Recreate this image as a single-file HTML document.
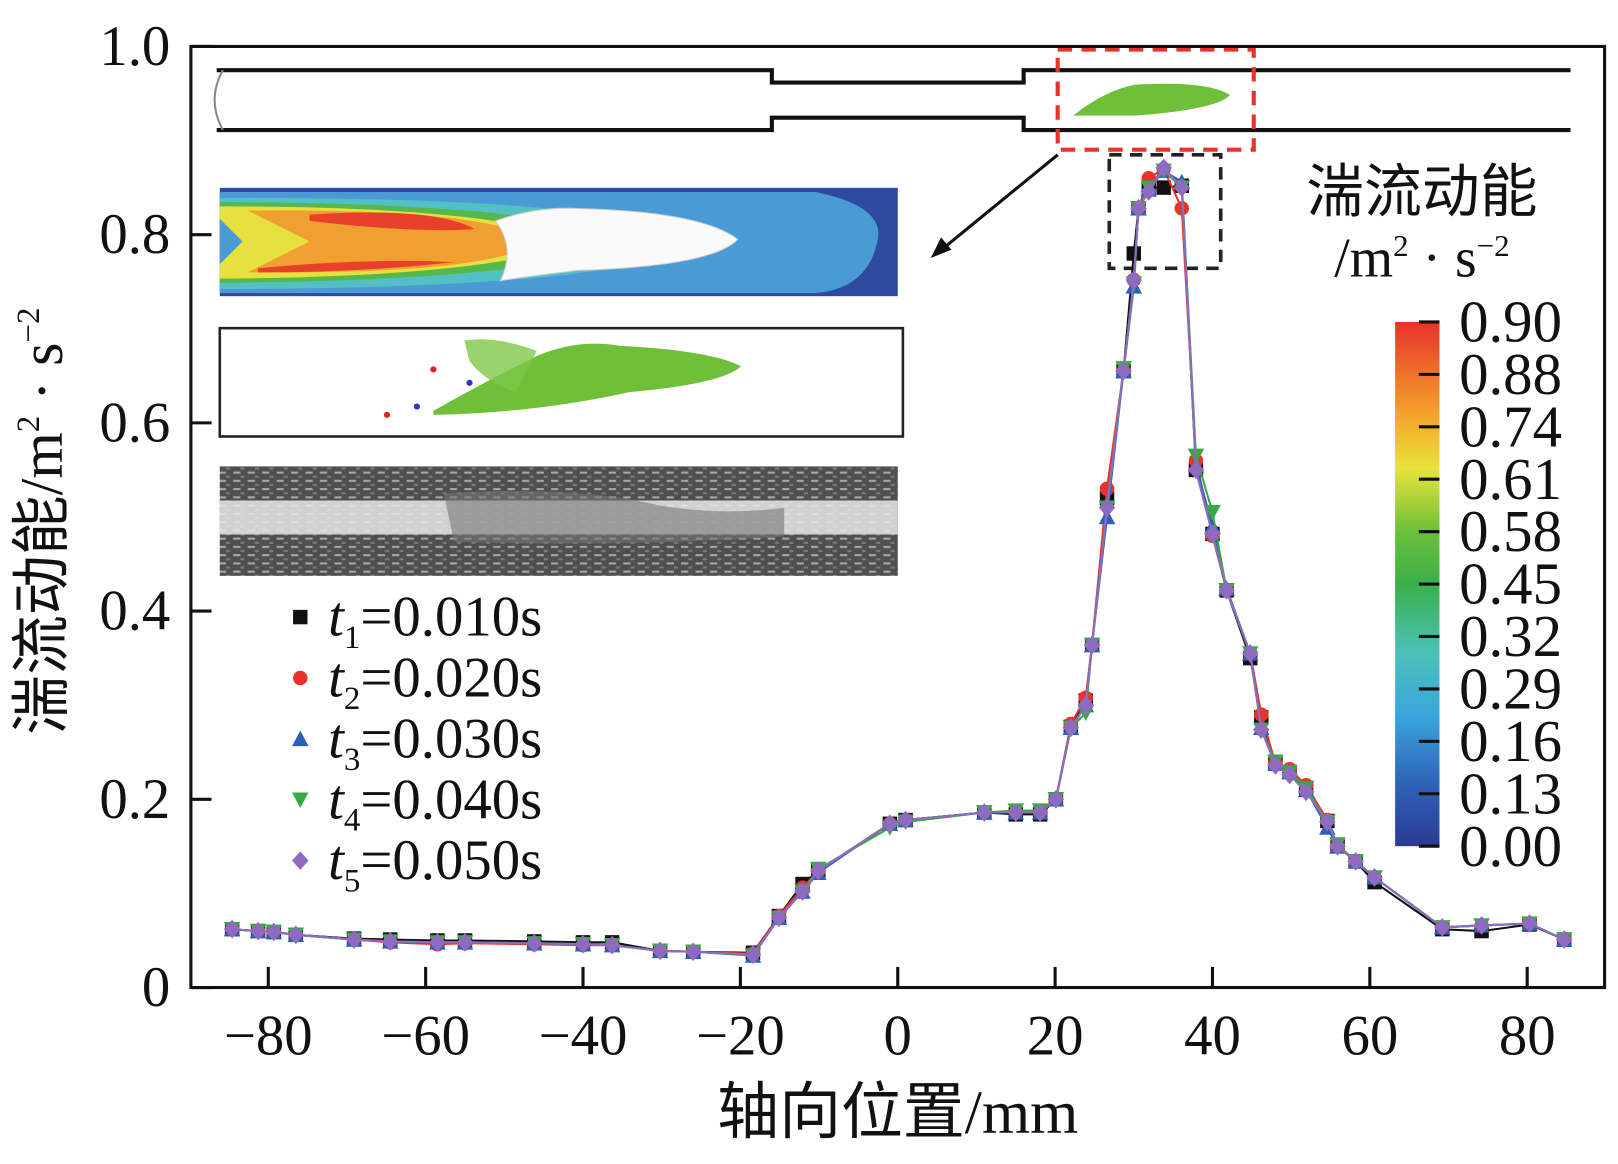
<!DOCTYPE html>
<html><head><meta charset="utf-8"><style>
html,body{margin:0;padding:0;background:#fff}
svg{display:block}
text{font-family:"Liberation Serif","Noto Serif CJK SC",serif;fill:#111}
.cjk{font-family:"Liberation Serif","Noto Sans CJK SC",sans-serif}
</style></head><body>
<svg id="chart" width="1618" height="1164" viewBox="0 0 1568 1128" xmlns="http://www.w3.org/2000/svg">
<defs>
<linearGradient id="cbar" x1="0" y1="1" x2="0" y2="0">
<stop offset="0" stop-color="#2b3a92"/><stop offset="0.12" stop-color="#2f63b8"/><stop offset="0.25" stop-color="#3aa6dc"/><stop offset="0.37" stop-color="#4cc0b8"/><stop offset="0.5" stop-color="#3bb04a"/><stop offset="0.6" stop-color="#6cc03a"/><stop offset="0.72" stop-color="#e8e43a"/><stop offset="0.82" stop-color="#f4a52a"/><stop offset="1" stop-color="#e8322a"/>
</linearGradient>
<pattern id="noise" width="14" height="8" patternUnits="userSpaceOnUse"><rect width="14" height="8" fill="#555"/><rect x="2" y="1" width="7" height="2" fill="#ddd"/><rect x="9" y="5" width="4" height="2" fill="#999"/></pattern>
</defs>
<g id="insets">
<g>
<path d="M210,68 H748 V80 H992 V68 H1522 M210,126 H748 V114 H992 V126 H1522" fill="none" stroke="#111" stroke-width="4"/>
<path d="M216,68 Q200,97 216,126" fill="none" stroke="#888" stroke-width="2"/>
<path d="M1040,112 Q1070,88 1100,82 Q1170,78 1192,92 Q1180,106 1100,112 Z" fill="#6fbf3a"/>
<rect x="1025" y="48" width="190" height="97" fill="none" stroke="#e8322a" stroke-width="4" stroke-dasharray="14,9"/>
<rect x="1075" y="150" width="108" height="110" fill="none" stroke="#222" stroke-width="3.5" stroke-dasharray="12,8"/>
<line x1="1025" y1="150" x2="910" y2="244" stroke="#111" stroke-width="3"/>
<path d="M902,250 L912,230 L922,242 Z" fill="#111"/>
</g>
<g>
<rect x="213" y="182" width="657" height="105" fill="#2d4a9e"/>
<path d="M213,186 H790 Q860,200 850,235 Q840,280 790,284 H213 Z" fill="#4a9ad6"/>
<path d="M213,192 Q600,190 690,234 Q600,280 213,280 Z" fill="#52c0c4"/>
<path d="M213,196 Q520,196 620,234 Q520,272 213,274 Z" fill="#56b84a"/>
<path d="M213,200 Q480,200 560,234 Q480,268 213,270 Z" fill="#e6e040"/>
<path d="M213,212 L235,234 L213,256 Z" fill="#4a9ad6"/>
<path d="M240,204 Q480,202 520,234 Q480,266 240,264 L300,234 Z" fill="#f0a030"/>
<path d="M300,208 Q420,200 460,222 Q400,226 300,214 Z" fill="#e8402a"/>
<path d="M250,260 Q350,250 440,254 Q350,264 250,264 Z" fill="#e8402a"/>
<path d="M480,214 Q520,200 560,202 Q680,205 715,232 Q690,258 560,262 Q510,268 485,272 Q500,240 480,214 Z" fill="#fafafa" stroke="#ccc"/>
</g>
<g>
<rect x="213" y="318" width="662" height="105" fill="#fff" stroke="#222" stroke-width="2.5"/>
<path d="M420,398 Q470,370 520,345 Q560,328 600,335 Q690,340 718,355 Q700,372 610,380 Q520,400 420,402 Z" fill="#6fbf3a"/>
<path d="M450,330 Q480,325 520,340 L500,380 Q470,370 455,350 Z" fill="#7ec84a" opacity="0.8"/>
<circle cx="420" cy="358" r="3" fill="#d22"/><circle cx="375" cy="402" r="3" fill="#d22"/><circle cx="404" cy="394" r="3" fill="#33c"/><circle cx="455" cy="371" r="3" fill="#33c"/>
</g>
<g>
<rect x="213" y="452" width="657" height="106" fill="url(#noise)"/>
<rect x="213" y="452" width="657" height="106" fill="#444" opacity="0.35"/>
<path d="M213,485 H870 V518 H213 Z" fill="#e8e8e8" opacity="0.85"/>
<path d="M430,478 Q560,470 640,490 Q700,500 760,492 L760,520 Q600,530 440,525 Z" fill="#777" opacity="0.6"/>
</g>
</g>
<g id="axes"></g>
<g id="series"></g>
<g id="legend"></g>
<g>
<text class="cjk" x="1378" y="205" font-size="56" text-anchor="middle">湍流动能</text>
<text x="1378" y="268" font-size="54" text-anchor="middle">/m<tspan font-size="30" dy="-20">2</tspan><tspan dy="20"> · s</tspan><tspan font-size="30" dy="-20">−2</tspan></text>
<rect x="1352" y="312" width="43" height="508" fill="url(#cbar)"/>
<g id="cbticks"></g>
</g>
</svg>
<script>
const xTicks=[-80,-60,-40,-20,0,20,40,60,80];
const yTicks=[0,0.2,0.4,0.6,0.8,1.0];
const yTickLabels=["0","0.2","0.4","0.6","0.8","1.0"];
const cbLabels=["0.90","0.88","0.74","0.61","0.58","0.45","0.32","0.29","0.16","0.13","0.00"];
const xs=[-84.6,-81.3,-79.3,-76.5,-69.1,-64.5,-58.5,-55,-46.2,-40,-36.3,-30.2,-26,-18.4,-15.1,-12.1,-10.1,-1,1,11,15,18.1,20.1,22,23.9,24.7,26.6,28.7,30,30.6,31.9,33.8,36.1,37.9,40,41.8,44.8,46.2,48,49.8,51.9,54.6,55.9,58.2,60.6,69.2,74.2,80.3,84.7];
const y1=[0.062,0.060,0.059,0.056,0.052,0.051,0.050,0.050,0.049,0.048,0.048,0.039,0.038,0.037,0.076,0.110,0.124,0.174,0.178,0.186,0.184,0.184,0.200,0.277,0.305,0.364,0.520,0.655,0.780,0.828,0.850,0.850,0.852,0.550,0.482,0.422,0.350,0.287,0.238,0.229,0.212,0.177,0.150,0.134,0.112,0.062,0.060,0.067,0.051];
const y2=[0.062,0.060,0.059,0.056,0.051,0.048,0.046,0.047,0.046,0.045,0.045,0.039,0.038,0.036,0.076,0.106,0.124,0.174,0.178,0.186,0.186,0.186,0.200,0.280,0.308,0.364,0.530,0.655,0.752,0.828,0.860,0.870,0.828,0.560,0.480,0.422,0.355,0.290,0.238,0.232,0.215,0.178,0.150,0.134,0.117,0.064,0.066,0.068,0.051];
const y3=[0.062,0.060,0.059,0.056,0.051,0.049,0.048,0.048,0.047,0.046,0.045,0.039,0.038,0.034,0.074,0.102,0.122,0.174,0.178,0.186,0.186,0.186,0.200,0.276,0.300,0.364,0.500,0.655,0.745,0.828,0.848,0.868,0.856,0.555,0.490,0.424,0.355,0.276,0.238,0.229,0.210,0.170,0.150,0.134,0.117,0.064,0.066,0.068,0.051];
const y4=[0.062,0.060,0.059,0.056,0.051,0.049,0.048,0.048,0.047,0.046,0.045,0.039,0.038,0.034,0.074,0.102,0.126,0.170,0.176,0.186,0.188,0.188,0.200,0.276,0.292,0.364,0.510,0.658,0.748,0.828,0.850,0.868,0.850,0.565,0.505,0.422,0.355,0.274,0.240,0.229,0.212,0.176,0.152,0.134,0.117,0.064,0.066,0.068,0.051];
const y5=[0.062,0.060,0.059,0.056,0.051,0.049,0.048,0.048,0.047,0.046,0.045,0.039,0.038,0.035,0.074,0.102,0.124,0.174,0.178,0.186,0.186,0.186,0.200,0.276,0.300,0.364,0.510,0.655,0.752,0.828,0.846,0.871,0.850,0.550,0.482,0.422,0.355,0.274,0.236,0.226,0.208,0.176,0.150,0.134,0.117,0.064,0.066,0.068,0.051];
const legendLabels=["0.010s","0.020s","0.030s","0.040s","0.050s"];
const NS="http://www.w3.org/2000/svg";
const X0=185,X1=1555,Y0=957,Y1=45;
const xScale=v=>870+v*7.625;
const yScale=v=>Y0-v*(Y0-Y1);
function mk(tag,attrs,parent){const e=document.createElementNS(NS,tag);for(const k in attrs)e.setAttribute(k,attrs[k]);parent.appendChild(e);return e;}
const axes=document.getElementById('axes');
const frame=mk('rect',{x:X0,y:Y1,width:X1-X0,height:Y0-Y1,fill:'none',stroke:'#111','stroke-width':3},axes);


xTicks.forEach(v=>{const x=xScale(v);
const t=mk('line',{x1:x,y1:Y0,x2:x,y2:Y0-20,stroke:'#111','stroke-width':3},axes);


const l=mk('text',{x:x,y:1022,'font-size':55,'text-anchor':'middle'},axes);l.textContent=(v<0?'−'+(-v):v);

});
yTicks.forEach((v,i)=>{const y=yScale(v);
const t=mk('line',{x1:X0,y1:y,x2:X0+20,y2:y,stroke:'#111','stroke-width':3},axes);


const l=mk('text',{x:165,y:y+18,'font-size':55,'text-anchor':'end'},axes);l.textContent=yTickLabels[i];

});
const xt=mk('text',{x:870,y:1098,'font-size':60,'text-anchor':'middle',class:'cjk'},axes);xt.textContent='轴向位置/mm';


const yt=mk('text',{transform:'translate(60,505) rotate(-90)','font-size':58,'text-anchor':'middle',class:'cjk'},axes);
yt.innerHTML='湍流动能/m<tspan font-size="32" dy="-22">2</tspan><tspan dy="22"> · s</tspan><tspan font-size="32" dy="-22">−2</tspan>';


const cb=document.getElementById('cbticks');
cbLabels.forEach((s,i)=>{const y=312+i*50.8;
const t=mk('line',{x1:1375,y1:y,x2:1395,y2:y,stroke:'#111','stroke-width':3},cb);


const l=mk('text',{x:1414,y:y+19,'font-size':57},cb);l.textContent=s;

});
const colors=['#111','#e8322a','#2e5fb8','#3aa845','#8e6bc0'];
const shapes=['square','circle','tri','tridown','diamond'];
function marker(shape,cx,cy,c,p){const s=7;let e;
if(shape==='square')e=mk('rect',{x:cx-s,y:cy-s,width:2*s,height:2*s,fill:c},p);
else if(shape==='circle')e=mk('circle',{cx:cx,cy:cy,r:s,fill:c},p);
else if(shape==='tri')e=mk('path',{d:`M${cx},${cy-s-1}L${cx+s+1},${cy+s}L${cx-s-1},${cy+s}Z`,fill:c},p);
else if(shape==='tridown')e=mk('path',{d:`M${cx},${cy+s+1}L${cx+s+1},${cy-s}L${cx-s-1},${cy-s}Z`,fill:c},p);
else e=mk('path',{d:`M${cx},${cy-s-2}L${cx+s+1},${cy}L${cx},${cy+s+2}L${cx-s-1},${cy}Z`,fill:c},p);
return e;}
const ser=document.getElementById('series');
[y1,y2,y3,y4,y5].forEach((ys,k)=>{const g=mk('g',{},ser);


const d=xs.map((x,i)=>(i?'L':'M')+xScale(x).toFixed(1)+','+yScale(ys[i]).toFixed(1)).join('');
const ln=mk('path',{d:d,fill:'none',stroke:colors[k],'stroke-width':2},g);


xs.forEach((x,i)=>{const m=marker(shapes[k],xScale(x),yScale(ys[i]),colors[k],g);

});});
const lg=document.getElementById('legend');
legendLabels.forEach((s,k)=>{const y=598+k*59;
const g=mk('g',{},lg);


marker(shapes[k],291,y,colors[k],g);
const t=mk('text',{x:318,y:y+18,'font-size':55},g);
t.innerHTML='<tspan font-style="italic">t</tspan><tspan font-size="32" dy="12">'+(k+1)+'</tspan><tspan dy="-12">='+s+'</tspan>';});
</script>
</body></html>
